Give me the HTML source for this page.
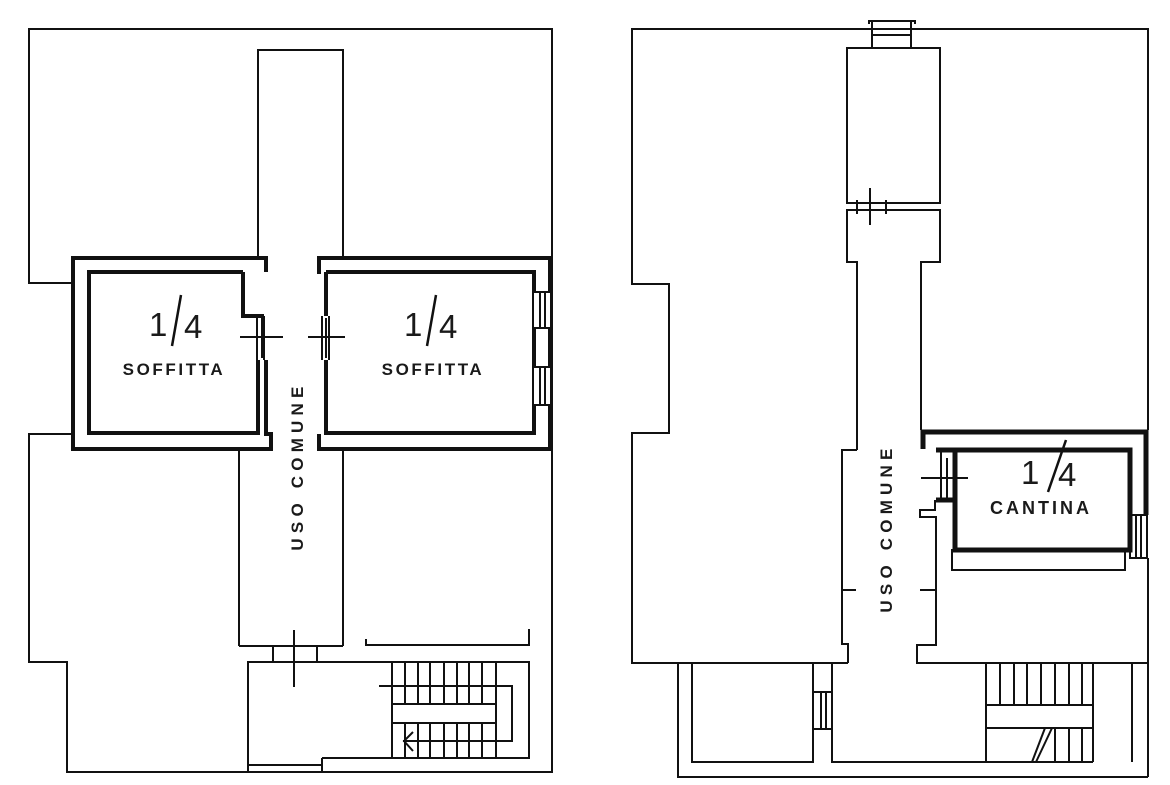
<!DOCTYPE html>
<html><head><meta charset="utf-8"><style>
html,body{margin:0;padding:0;background:#fff;}
svg{display:block;}
text{font-family:"Liberation Sans","DejaVu Sans",sans-serif;fill:#1a1a1a;}
.lb{font-size:17px;font-weight:bold;letter-spacing:2.6px;}
.fr{font-size:33px;font-weight:normal;}
</style></head><body>
<svg width="1170" height="785" viewBox="0 0 1170 785" xmlns="http://www.w3.org/2000/svg">
<g fill="none" stroke="#111" stroke-width="2">
<!-- LEFT PLAN -->
<polyline points="72,283 29,283 29,29 552,29 552,772 67,772 67,662 29,662 29,434 72,434"/>
<polyline points="258,258 258,50 343,50 343,258"/>
<line x1="239" y1="451" x2="239" y2="646"/>
<line x1="239" y1="646" x2="343" y2="646"/>
<line x1="343" y1="451" x2="343" y2="646"/>
<line x1="273" y1="646" x2="273" y2="662"/>
<line x1="317" y1="646" x2="317" y2="662"/>
<line x1="294" y1="630" x2="294" y2="687"/>
<polyline points="248,772 248,662 529,662 529,758 322,758"/>
<line x1="248" y1="765" x2="322" y2="765"/>
<line x1="322" y1="758" x2="322" y2="772"/>
<polyline points="366,639 366,645 529,645 529,629"/>
<!-- stairs -->
<g stroke-width="2">
<line x1="392" y1="662" x2="392" y2="758"/><line x1="496" y1="662" x2="496" y2="758"/>
<line x1="405" y1="662" x2="405" y2="704"/><line x1="418" y1="662" x2="418" y2="704"/><line x1="430" y1="662" x2="430" y2="704"/><line x1="444" y1="662" x2="444" y2="704"/><line x1="457" y1="662" x2="457" y2="704"/><line x1="469" y1="662" x2="469" y2="704"/><line x1="482" y1="662" x2="482" y2="704"/>
<line x1="405" y1="723" x2="405" y2="758"/><line x1="418" y1="723" x2="418" y2="758"/><line x1="430" y1="723" x2="430" y2="758"/><line x1="444" y1="723" x2="444" y2="758"/><line x1="457" y1="723" x2="457" y2="758"/><line x1="469" y1="723" x2="469" y2="758"/><line x1="482" y1="723" x2="482" y2="758"/>
<rect x="392" y="704" width="104" height="19"/>
<polyline points="379,686 512,686 512,741 403,741"/>
<polyline points="413,732 404,741 413,751"/>
</g>
<!-- left soffitta -->
<g stroke-width="4">
<polyline points="266,272 266,258 73,258 73,449 271,449 271,434 266,434 266,360"/>
<polyline points="243,272 89,272 89,433 258,433 258,360"/>
<polyline points="243,272 243,316 264,316"/>
</g>
<line x1="257" y1="316" x2="257" y2="360"/><line x1="264" y1="316" x2="264" y2="360"/>
<line x1="240" y1="337" x2="283" y2="337"/><line x1="262" y1="318" x2="262" y2="358"/>
<!-- right soffitta -->
<g stroke-width="4">
<polyline points="319,274 319,258 550,258 550,449 319,449 319,434"/>
<polyline points="326,272 534,272 534,433 326,433 326,360"/>
<line x1="326" y1="272" x2="326" y2="316"/>
</g>
<line x1="322" y1="316" x2="322" y2="360"/><line x1="329" y1="316" x2="329" y2="360"/>
<line x1="308" y1="337" x2="345" y2="337"/><line x1="326" y1="318" x2="326" y2="358"/>
<g fill="#fff" stroke-width="2">
<rect x="533" y="292" width="18" height="36"/><rect x="533" y="367" width="18" height="38"/>
</g>
<line x1="540" y1="292" x2="540" y2="328"/><line x1="545" y1="292" x2="545" y2="328"/>
<line x1="540" y1="367" x2="540" y2="405"/><line x1="545" y1="367" x2="545" y2="405"/>
<line x1="181" y1="295" x2="172" y2="346" stroke-width="2.5"/>
<line x1="436" y1="295" x2="427" y2="346" stroke-width="2.5"/>

<!-- RIGHT PLAN -->
<polyline points="848,663 632,663 632,433 669,433 669,284 632,284 632,29 1148,29 1148,430"/>
<polyline points="869,21 915,21"/><line x1="869" y1="20" x2="869" y2="24"/><line x1="915" y1="20" x2="915" y2="24"/>
<line x1="872" y1="21" x2="872" y2="48"/><line x1="911" y1="21" x2="911" y2="48"/>
<line x1="872" y1="35" x2="911" y2="35"/>
<rect x="847" y="48" width="93" height="155"/>
<polyline points="857,450 857,262 847,262 847,210 940,210 940,262 921,262 921,430"/>
<line x1="857" y1="200" x2="857" y2="214"/><line x1="886" y1="200" x2="886" y2="214"/>
<line x1="870" y1="188" x2="870" y2="225"/>
<polyline points="857,450 842,450 842,644 848,644 848,663"/>
<line x1="842" y1="590" x2="856" y2="590"/>
<polyline points="935,500 935,510 920,510 920,517 936,517 936,645 917,645 917,663 1148,663"/>
<line x1="920" y1="590" x2="936" y2="590"/>
<line x1="1148" y1="558" x2="1148" y2="777"/>
<polyline points="678,663 678,777 1148,777"/>
<rect x="692" y="663" width="121" height="99"/>
<polyline points="832,663 832,762 986,762 986,663"/>
<rect x="813" y="692" width="19" height="37"/>
<line x1="821" y1="692" x2="821" y2="729"/><line x1="826" y1="692" x2="826" y2="729"/>
<line x1="1132" y1="663" x2="1132" y2="762"/>
<line x1="1093" y1="663" x2="1093" y2="762"/>
<line x1="986" y1="705" x2="1093" y2="705"/><line x1="986" y1="728" x2="1093" y2="728"/>
<line x1="986" y1="762" x2="1093" y2="762"/>
<line x1="1000" y1="663" x2="1000" y2="705"/><line x1="1014" y1="663" x2="1014" y2="705"/><line x1="1027" y1="663" x2="1027" y2="705"/><line x1="1041" y1="663" x2="1041" y2="705"/><line x1="1055" y1="663" x2="1055" y2="705"/><line x1="1069" y1="663" x2="1069" y2="705"/><line x1="1082" y1="663" x2="1082" y2="705"/>
<line x1="1055" y1="728" x2="1055" y2="762"/><line x1="1069" y1="728" x2="1069" y2="762"/><line x1="1082" y1="728" x2="1082" y2="762"/>
<line x1="1045" y1="728" x2="1032" y2="762"/><line x1="1052" y1="728" x2="1036" y2="762"/>
<!-- cantina -->
<g stroke-width="5">
<polyline points="923,449 923,432 1146,432 1146,515"/>
<polyline points="936,450 1130,450 1130,515"/>
<polyline points="955,450 955,550 1130,550 1130,515"/>
<line x1="936" y1="500" x2="955" y2="500"/>
</g>
<line x1="941" y1="450" x2="941" y2="500"/>
<rect x="952" y="550" width="173" height="20"/>
<rect x="1130" y="515" width="17" height="43"/>
<line x1="1136" y1="515" x2="1136" y2="558"/><line x1="1141" y1="515" x2="1141" y2="558"/>
<line x1="921" y1="478" x2="968" y2="478"/><line x1="947" y1="458" x2="947" y2="498"/>
<line x1="1066" y1="440" x2="1048" y2="492" stroke-width="2.5"/>
</g>
<text x="149" y="336" class="fr">1</text><text x="184" y="338" class="fr">4</text>
<text x="404" y="336" class="fr">1</text><text x="439" y="338" class="fr">4</text>
<text x="1021" y="484" class="fr">1</text><text x="1058" y="486" class="fr">4</text>
<text x="174" y="375" class="lb" text-anchor="middle">SOFFITTA</text>
<text x="433" y="375" class="lb" text-anchor="middle">SOFFITTA</text>
<text x="1041" y="514" class="lb" text-anchor="middle" style="font-size:18px;letter-spacing:3px">CANTINA</text>
<text class="lb" text-anchor="middle" transform="translate(303,466) rotate(-90)" style="letter-spacing:5.2px">USO COMUNE</text>
<text class="lb" text-anchor="middle" transform="translate(892,528) rotate(-90)" style="letter-spacing:5.2px">USO COMUNE</text>
</svg>
</body></html>
